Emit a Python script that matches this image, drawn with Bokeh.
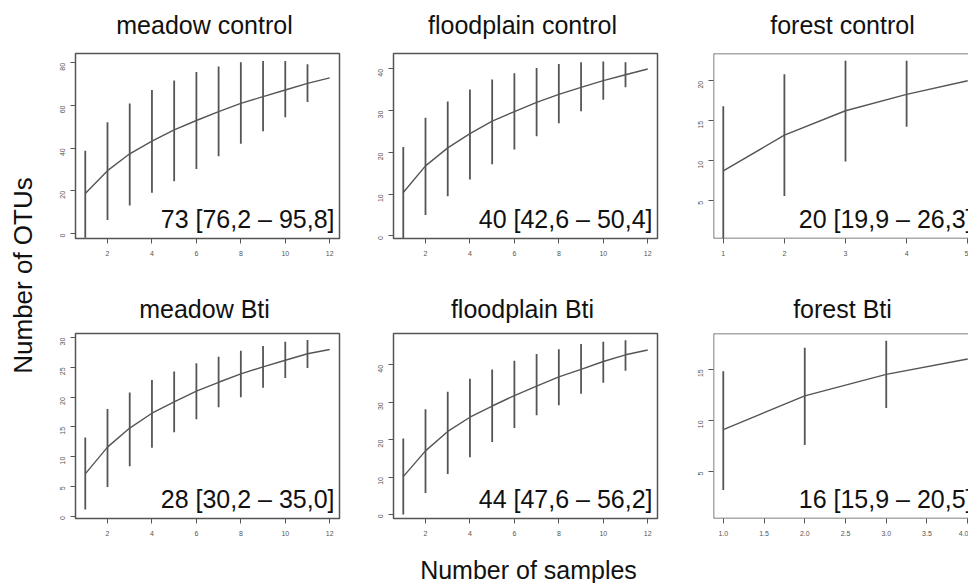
import math

from bokeh.core.properties import value
from bokeh.embed import file_html
from bokeh.layouts import column, row
from bokeh.models import FixedTicker, PrintfTickFormatter, Range1d, Span
from bokeh.plotting import figure
from bokeh.resources import INLINE

# ---------------------------------------------------------------------------
# Species accumulation (mean OTU richness with +/- interval per sample size)
# ---------------------------------------------------------------------------
samples_12 = [1, 2, 3, 4, 5, 6, 7, 8, 9, 10, 11, 12]
samples_5 = [1, 2, 3, 4, 5]
samples_4 = [1, 2, 3, 4]

meadow_control_mean = [18.8, 29.5, 37.4, 43.3, 48.6, 53.0, 57.2, 61.0, 64.2, 67.3, 70.4, 73.0]
meadow_control_lower = [-1.9, 6.4, 13.2, 19.1, 24.5, 30.3, 36.2, 42.1, 48.0, 54.5, 61.7]
meadow_control_upper = [38.8, 52.2, 61.0, 67.3, 71.8, 75.7, 78.3, 80.3, 80.9, 80.9, 79.4]
meadow_control_est = [76.2, 95.8]

floodplain_control_mean = [10.4, 16.8, 21.1, 24.5, 27.5, 29.8, 32.0, 33.9, 35.6, 37.2, 38.6, 40.0]
floodplain_control_lower = [-0.5, 5.0, 9.5, 13.5, 17.2, 20.7, 23.9, 27.0, 29.9, 32.6, 35.6]
floodplain_control_upper = [21.3, 28.3, 32.2, 35.1, 37.5, 39.0, 40.2, 41.2, 41.6, 41.8, 41.6]
floodplain_control_est = [42.6, 50.4]

forest_control_mean = [8.75, 13.2, 16.25, 18.3, 20.0]
forest_control_lower = [0.2, 5.6, 9.9, 14.25]
forest_control_upper = [16.8, 20.8, 22.5, 22.5]
forest_control_est = [19.9, 26.3]

meadow_bti_mean = [7.1, 11.6, 14.8, 17.3, 19.2, 21.0, 22.5, 23.9, 25.1, 26.2, 27.3, 28.0]
meadow_bti_lower = [1.1, 4.9, 8.4, 11.5, 14.1, 16.3, 18.3, 20.0, 21.6, 23.2, 24.9]
meadow_bti_upper = [13.2, 18.0, 20.8, 22.9, 24.3, 25.7, 26.8, 27.8, 28.6, 29.3, 29.6]
meadow_bti_est = [30.2, 35.0]

floodplain_bti_mean = [10.1, 17.0, 22.2, 26.0, 29.0, 31.8, 34.3, 36.8, 38.8, 40.9, 42.7, 44.0]
floodplain_bti_lower = [0.0, 5.7, 10.8, 15.3, 19.4, 23.1, 26.5, 29.2, 32.3, 35.2, 38.4]
floodplain_bti_upper = [20.3, 28.1, 32.8, 36.3, 38.8, 41.1, 42.9, 44.2, 45.6, 46.2, 46.6]
floodplain_bti_est = [47.6, 56.2]

forest_bti_mean = [9.1, 12.4, 14.5, 16.0]
forest_bti_lower = [3.2, 7.6, 11.2]
forest_bti_upper = [14.8, 17.1, 17.8]
forest_bti_est = [15.9, 20.5]

titles_row1 = ["meadow control", "floodplain control", "forest control"]
titles_row2 = ["meadow Bti", "floodplain Bti", "forest Bti"]

# axis ticks
x_ticks_12 = [2, 4, 6, 8, 10, 12]
x_ticks_5 = [1, 2, 3, 4, 5]
x_ticks_4 = [1.0, 1.5, 2.0, 2.5, 3.0, 3.5, 4.0]
y_ticks_meadow_control = [0, 20, 40, 60, 80]
y_ticks_floodplain = [0, 10, 20, 30, 40]
y_ticks_forest_control = [5, 10, 15, 20]
y_ticks_meadow_bti = [0, 5, 10, 15, 20, 25, 30]
y_ticks_forest_bti = [5, 10, 15]

# vertical limits of each panel
ylim_meadow_control = (-2.3, 84.4)
ylim_floodplain_control = (-0.6, 43.7)
ylim_forest_control = (0.3, 23.4)
ylim_meadow_bti = (-0.4, 30.7)
ylim_floodplain_bti = (-1.1, 48.4)
ylim_forest_bti = (0.4, 18.5)

# ---------------------------------------------------------------------------
FONT = "Liberation Sans"
FRAME_COLOR = "#555555"
INK = "#555555"
TEXT = "#111111"
FULL_FRAME_W = 264
FRAME_H = 185
COL_W = [318, 320, 285]      # widths of the three panel columns
COL_LEFT = 30                 # left border of every panel (room for y ticks)
COL_RIGHT = [24, 26, 0]
GRID_W = sum(COL_W)
YLAB_W = 45


def fmt(v):
    return f"{v:.1f}".replace(".", ",")


def panel(x, mean, lower, upper, est, ylim, xticks, yticks, col, bottom,
          xfmt=None):
    width = COL_W[col]
    right = COL_RIGHT[col]
    cropped = right == 0
    pad = 0.04 * (x[-1] - x[0])
    x_start = x[0] - pad
    x_full_end = x[-1] + pad
    frame_w = width - COL_LEFT - right
    x_per_px = (x_full_end - x_start) / FULL_FRAME_W
    y_per_px = (ylim[1] - ylim[0]) / FRAME_H
    x_end = x_start + frame_w * x_per_px

    p = figure(width=width, height=5 + FRAME_H + bottom, toolbar_location=None,
               output_backend="svg", title=None,
               x_range=Range1d(x_start, x_end), y_range=Range1d(*ylim),
               min_border_left=COL_LEFT, min_border_right=right,
               min_border_top=5, min_border_bottom=bottom)
    p.grid.visible = False
    p.background_fill_color = "white"
    p.border_fill_color = "white"

    for ax in (p.xaxis[0], p.yaxis[0]):
        ax.major_tick_in = 0
        ax.major_tick_out = 5
        ax.major_tick_line_color = FRAME_COLOR
        ax.major_tick_line_width = 1
        ax.minor_tick_line_color = None
        ax.major_label_text_font = FONT
        ax.major_label_text_font_size = "7px"
        ax.major_label_text_color = "#555555"
        ax.axis_line_color = None
    p.xaxis.ticker = FixedTicker(ticks=xticks)
    p.yaxis.ticker = FixedTicker(ticks=yticks)
    p.xaxis.major_label_standoff = 7
    p.yaxis.major_label_standoff = 8
    p.yaxis.major_label_orientation = math.pi / 2
    if xfmt is not None:
        p.xaxis.formatter = xfmt

    if cropped:
        # the panel runs off the right edge: draw only left, top and bottom sides
        p.outline_line_color = None
        for loc, dim in ((ylim[0], "width"), (ylim[1], "width"), (x_start, "height")):
            p.add_layout(Span(location=loc, dimension=dim,
                              line_color=FRAME_COLOR, line_width=1.5))
    else:
        p.outline_line_color = FRAME_COLOR
        p.outline_line_width = 1.5

    # interval bars (none at the full sample size) and mean curve
    p.segment(x0=x[:-1], y0=lower, x1=x[:-1], y1=upper,
              line_color=INK, line_width=1.8)
    p.line(x, mean, line_color=INK, line_width=1.4)

    # observed richness with estimated interval, bottom-right corner
    text = f"{mean[-1]:.0f} [{fmt(est[0])} \u2013 {fmt(est[1])}]"
    p.text(x=[x_full_end - 5 * x_per_px], y=[ylim[0] + 20 * y_per_px],
           text=[text], text_align="right", text_baseline="middle",
           text_font=value(FONT), text_font_size="25px", text_color=TEXT)
    return p


def title_strip(titles, height, mid_from_bottom):
    t = figure(width=GRID_W, height=height, toolbar_location=None, title=None,
               output_backend="svg", x_range=Range1d(0, GRID_W),
               y_range=Range1d(0, height), x_axis_type=None, y_axis_type=None,
               min_border=0)
    t.outline_line_color = None
    t.grid.visible = False
    lefts = [sum(COL_W[:i]) + COL_LEFT for i in range(3)]
    centres = [l + FULL_FRAME_W / 2 - 3 for l in lefts]
    t.text(x=centres, y=[mid_from_bottom] * 3, text=titles,
           text_align="center", text_baseline="middle",
           text_font=value(FONT), text_font_size="25px", text_color=TEXT)
    return t


row1 = row(
    panel(samples_12, meadow_control_mean, meadow_control_lower,
          meadow_control_upper, meadow_control_est, ylim_meadow_control,
          x_ticks_12, y_ticks_meadow_control, 0, 47),
    panel(samples_12, floodplain_control_mean, floodplain_control_lower,
          floodplain_control_upper, floodplain_control_est,
          ylim_floodplain_control, x_ticks_12, y_ticks_floodplain, 1, 47),
    panel(samples_5, forest_control_mean, forest_control_lower,
          forest_control_upper, forest_control_est, ylim_forest_control,
          x_ticks_5, y_ticks_forest_control, 2, 47),
)
row2 = row(
    panel(samples_12, meadow_bti_mean, meadow_bti_lower, meadow_bti_upper,
          meadow_bti_est, ylim_meadow_bti, x_ticks_12, y_ticks_meadow_bti, 0, 27),
    panel(samples_12, floodplain_bti_mean, floodplain_bti_lower,
          floodplain_bti_upper, floodplain_bti_est, ylim_floodplain_bti,
          x_ticks_12, y_ticks_floodplain, 1, 27),
    panel(samples_4, forest_bti_mean, forest_bti_lower, forest_bti_upper,
          forest_bti_est, ylim_forest_bti, x_ticks_4, y_ticks_forest_bti, 2, 27,
          xfmt=PrintfTickFormatter(format="%.1f")),
)

grid = column(title_strip(titles_row1, 48, 24), row1,
              title_strip(titles_row2, 43, 19.5), row2)

# shared axis titles
LAB_H = 48 + (5 + FRAME_H + 47) + 43 + (5 + FRAME_H + 27)
ylab = figure(width=YLAB_W, height=LAB_H, toolbar_location=None, title=None,
              output_backend="svg", x_range=Range1d(0, YLAB_W),
              y_range=Range1d(0, LAB_H), x_axis_type=None,
              y_axis_type=None, min_border=0)
ylab.outline_line_color = None
ylab.grid.visible = False
ylab.text(x=[22], y=[LAB_H - 275], text=["Number of OTUs"],
          angle=math.pi / 2, text_align="center", text_baseline="middle",
          text_font=value(FONT), text_font_size="26px", text_color=TEXT)

XLAB_H = 583 - LAB_H
xlab = figure(width=YLAB_W + GRID_W, height=XLAB_H, toolbar_location=None,
              title=None, output_backend="svg",
              x_range=Range1d(0, YLAB_W + GRID_W), y_range=Range1d(0, XLAB_H),
              x_axis_type=None, y_axis_type=None, min_border=0)
xlab.outline_line_color = None
xlab.grid.visible = False
xlab.text(x=[528], y=[XLAB_H - 24], text=["Number of samples"],
          text_align="center", text_baseline="middle", text_font=value(FONT),
          text_font_size="25px", text_color=TEXT)

layout = column(row(ylab, grid), xlab)

with open("out.html", "w") as fh:
    fh.write(file_html(layout, INLINE))
